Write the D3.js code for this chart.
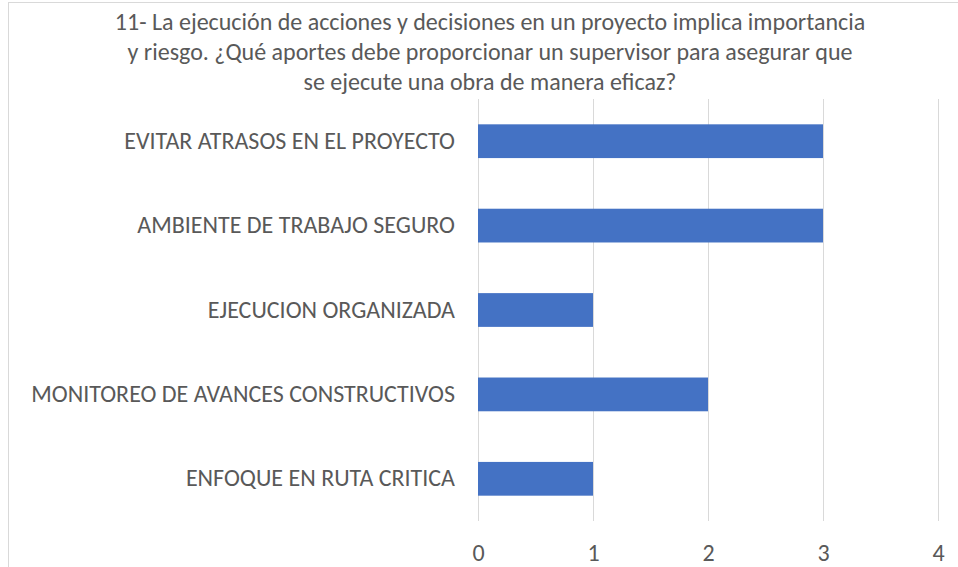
<!DOCTYPE html>
<html>
<head>
<meta charset="utf-8">
<script src="https://cdn.jsdelivr.net/npm/d3@7"></script>
<style>
  body { margin: 0; background: #fff; }
  text { font-family: Carlito, Calibri, "Open Sans", sans-serif; fill: #595959; }
</style>
</head>
<body>
<svg id="chart" width="958" height="567"></svg>
<script>
"use strict";

var titleLines = [
  '11- La ejecución de acciones y decisiones en un proyecto implica importancia',
  'y riesgo. ¿Qué aportes debe proporcionar un supervisor para asegurar que',
  'se ejecute una obra de manera eficaz?'
];
var categories = [
  'EVITAR ATRASOS EN EL PROYECTO',
  'AMBIENTE DE TRABAJO SEGURO',
  'EJECUCION ORGANIZADA',
  'MONITOREO DE AVANCES CONSTRUCTIVOS',
  'ENFOQUE EN RUTA CRITICA'
];
var values = [3, 3, 1, 2, 1];
var xTicks = [0, 1, 2, 3, 4];

function make_chart() {
  var svg = d3.select('#chart');
  var margin = { top: 99, right: 20, bottom: 46, left: 478 };
  var width = 938 - margin.left;
  var height = 521 - margin.top;

  // outer chart border (runs off the right/bottom edge)
  svg.append('rect')
    .attr('x', 8.5).attr('y', 2.5)
    .attr('width', 960).attr('height', 580)
    .attr('fill', 'none')
    .attr('stroke', '#d9d9d9');

  svg.append('text')
    .attr('x', 490).attr('y', 30)
    .attr('text-anchor', 'middle')
    .style('font-size', '24px')
    .selectAll('tspan')
    .data(titleLines)
    .enter().append('tspan')
    .attr('x', 490)
    .attr('dy', function (d, i) { return i === 0 ? 0 : 30; })
    .text(function (d) { return d; });

  var plot = svg.append('g')
    .attr('transform', 'translate(' + margin.left + ',' + margin.top + ')');

  var _x = d3.scaleLinear().domain([0, 4]).range([0, width]);
  var _y = d3.scaleBand().domain(categories).range([0, height])
    .paddingInner(0.6).paddingOuter(0.3);

  var xaxis = d3.axisBottom(_x).tickValues(xTicks).tickSize(height).tickFormat(d3.format('d'));
  var gx = plot.append('g').call(xaxis);
  gx.select('.domain').remove();
  gx.selectAll('.tick line').attr('stroke', '#d9d9d9').attr('y1', 0);
  gx.selectAll('.tick text')
    .attr('y', height + 40)
    .attr('dy', 0)
    .style('font-size', '24px')
    .attr('fill', '#595959');

  plot.selectAll('.bar')
    .data(values)
    .enter().append('rect')
    .attr('class', 'bar')
    .attr('x', _x(0))
    .attr('y', function (d, i) { return _y(categories[i]); })
    .attr('width', function (d) { return _x(d) - _x(0); })
    .attr('height', _y.bandwidth())
    .attr('fill', '#4472c4');

  var yaxis = d3.axisLeft(_y).tickSize(0).tickPadding(23);
  var gy = plot.append('g').call(yaxis);
  gy.select('.domain').remove();
  gy.selectAll('.tick text')
    .style('font-size', '24px')
    .attr('fill', '#595959');
}

make_chart();
</script>
</body>
</html>
